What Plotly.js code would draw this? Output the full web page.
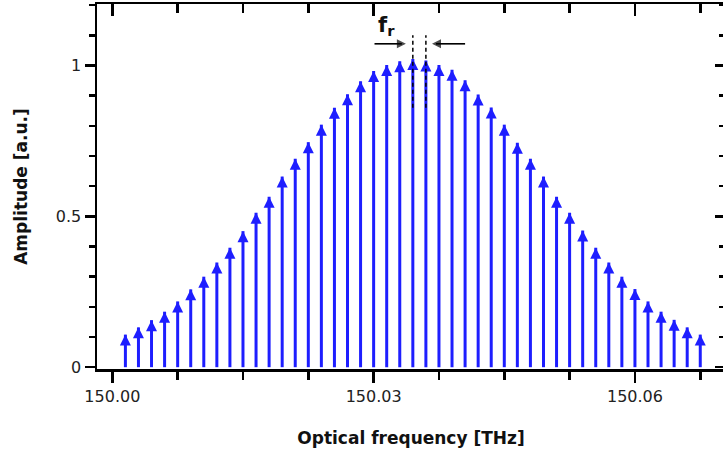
<!DOCTYPE html>
<html>
<head>
<meta charset="utf-8">
<script src="https://cdn.plot.ly/plotly-3.0.1.min.js"></script>
<style>
html, body { margin: 0; padding: 0; overflow: hidden; background: #fff; }
#chart { width: 726px; height: 453px; }
</style>
</head>
<body>
<div id="chart"></div>
<script>
// Comb line frequencies [THz] (spacing f_r = 1.5 GHz)
const freqs = [
  150.0015, 150.0030, 150.0045, 150.0060, 150.0075, 150.0090, 150.0105, 150.0120, 150.0135,
  150.0150, 150.0165, 150.0180, 150.0195, 150.0210, 150.0225, 150.0240, 150.0255, 150.0270,
  150.0285, 150.0300, 150.0315, 150.0330, 150.0345, 150.0360, 150.0375, 150.0390, 150.0405,
  150.0420, 150.0435, 150.0450, 150.0465, 150.0480, 150.0495, 150.0510, 150.0525, 150.0540,
  150.0555, 150.0570, 150.0585, 150.0600, 150.0615, 150.0630, 150.0645, 150.0660, 150.0675
];
// Amplitudes [a.u.] (arrow tips)
const amps = [
  0.108, 0.132, 0.156, 0.184, 0.218, 0.258, 0.300, 0.347, 0.396,
  0.451, 0.512, 0.565, 0.632, 0.691, 0.746, 0.804, 0.860, 0.905,
  0.948, 0.982, 1.002, 1.014, 1.022, 1.017, 1.002, 0.986, 0.951,
  0.904, 0.861, 0.804, 0.744, 0.691, 0.632, 0.565, 0.512, 0.453,
  0.396, 0.347, 0.300, 0.259, 0.218, 0.184, 0.157, 0.132, 0.108
];
// Axis ticks
const xTick0 = 150.00, xDtick = 0.03, xMinorDtick = 0.0075;
const yDtick = 0.5, yMinorDtick = 0.1;
const xRange = [149.99824, 150.07034];
const yRange = [-0.006, 1.204];
// f_r marker: the two neighbouring comb lines it spans, and the pointer arrows
const frLines = [150.0345, 150.0360];
const frLeftArrowX = [150.0301, 150.0337];
const frRightArrowX = [150.0405, 150.0367];
const frArrowY = [1.072, 1.072];

const blue = '#1e1eff';
const black = '#000';

// stems: one segment from 0 to amplitude per comb line (built from the data arrays)
const stemX = [], stemY = [];
freqs.forEach((f, i) => { stemX.push(f, f, null); stemY.push(0, amps[i], null); });

const annotations = [
  {
    x: 150.0315, y: 1.13, xref: 'x', yref: 'y', showarrow: false,
    text: '<b>f<sub>r</sub></b>', font: {family: 'DejaVu Sans', size: 21, color: '#111'}
  }
];

const shapes = frLines.map(f => ({
  type: 'line', xref: 'x', yref: 'y', x0: f, x1: f, y0: 0.86, y1: 1.10, layer: 'above',
  line: {color: black, width: 1.5, dash: '4px,3px'}
}));

const tickFont = {family: 'DejaVu Sans', size: 16, color: '#222'};
const titleFont = {family: 'DejaVu Sans', size: 17, color: '#111', weight: 'bold'};

const layout = {
  width: 726, height: 453,
  margin: {l: 97, r: 1, t: 4, b: 84, pad: 0},
  paper_bgcolor: '#fff', plot_bgcolor: '#fff',
  showlegend: false,
  font: {family: 'DejaVu Sans'},
  xaxis: {
    range: xRange, tick0: xTick0, dtick: xDtick, tickformat: '.2f',
    ticks: 'outside', ticklen: 11, tickwidth: 2.5, tickcolor: black,
    minor: {dtick: xMinorDtick, tick0: xTick0, ticks: 'outside', ticklen: 8, tickwidth: 2.5, tickcolor: black, showgrid: false},
    showline: true, linewidth: 2.5, linecolor: black, showgrid: false, zeroline: false,
    tickfont: tickFont,
    title: {text: 'Optical frequency [THz]', font: titleFont, standoff: 28}
  },
  yaxis: {
    range: yRange, tick0: 0, dtick: yDtick,
    ticks: 'outside', ticklen: 10, tickwidth: 2.5, tickcolor: black,
    minor: {dtick: yMinorDtick, tick0: 0, ticks: 'outside', ticklen: 6, tickwidth: 2.5, tickcolor: black, showgrid: false},
    showline: true, linewidth: 2.5, linecolor: black, showgrid: false, zeroline: false,
    tickfont: tickFont,
    title: {text: 'Amplitude [a.u.]', font: titleFont, standoff: 24}
  },
  xaxis2: {
    overlaying: 'x', side: 'top', anchor: 'y', range: xRange, tick0: xTick0, dtick: xDtick,
    ticks: 'inside', ticklen: 12, tickwidth: 2.5, tickcolor: black,
    minor: {dtick: xMinorDtick, tick0: xTick0, ticks: 'inside', ticklen: 9, tickwidth: 2.5, tickcolor: black, showgrid: false},
    showticklabels: false, showline: true, linewidth: 2.5, linecolor: black, showgrid: false, zeroline: false
  },
  yaxis2: {
    overlaying: 'y', side: 'right', anchor: 'x', range: yRange, tick0: 0, dtick: yDtick,
    ticks: 'inside', ticklen: 10, tickwidth: 2.5, tickcolor: black,
    minor: {dtick: yMinorDtick, tick0: 0, ticks: 'inside', ticklen: 6, tickwidth: 2.5, tickcolor: black, showgrid: false},
    showticklabels: false, showline: true, linewidth: 2.5, linecolor: black, showgrid: false, zeroline: false
  },
  annotations: annotations,
  shapes: shapes
};

const traces = [
  {
    x: stemX, y: stemY, type: 'scatter', mode: 'lines', connectgaps: false,
    line: {color: blue, width: 3, backoff: 5}, hoverinfo: 'skip', showlegend: false
  },
  {
    x: freqs, y: amps, type: 'scatter', mode: 'markers',
    marker: {symbol: 'arrow-up', size: 11, color: blue, line: {width: 0}},
    hoverinfo: 'skip', showlegend: false, cliponaxis: false
  },
  {
    x: frLeftArrowX, y: frArrowY, type: 'scatter', mode: 'lines+markers', cliponaxis: false,
    line: {color: black, width: 1.6, backoff: 4},
    marker: {symbol: ['circle', 'arrow-right'], size: [0, 9], color: black, line: {width: 0}},
    hoverinfo: 'skip', showlegend: false
  },
  {
    x: frRightArrowX, y: frArrowY, type: 'scatter', mode: 'lines+markers', cliponaxis: false,
    line: {color: black, width: 1.6, backoff: 4},
    marker: {symbol: ['circle', 'arrow-left'], size: [0, 9], color: black, line: {width: 0}},
    hoverinfo: 'skip', showlegend: false
  },
  {x: [xRange[0]], y: [yRange[0]], xaxis: 'x2', yaxis: 'y2', type: 'scatter', mode: 'none', hoverinfo: 'skip', showlegend: false}
];

Plotly.newPlot('chart', traces, layout, {displayModeBar: false, staticPlot: true});
</script>
</body>
</html>
